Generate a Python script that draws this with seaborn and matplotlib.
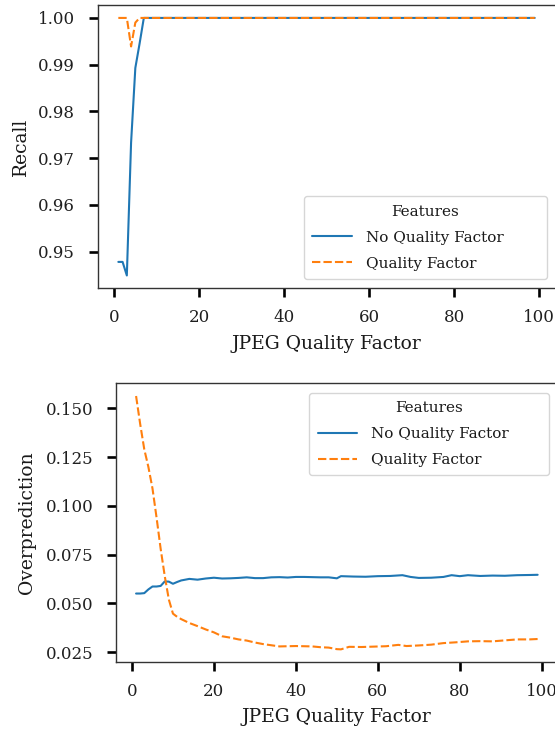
import matplotlib
matplotlib.use("Agg")
import matplotlib.pyplot as plt
import pandas as pd
import seaborn as sns

features = ["No Quality Factor", "Quality Factor"]
colors = ["#1f77b4", "#ff7f0e"]

# Recall against JPEG quality factor
recall_x_nqf = [1, 2, 3, 4, 5, 6, 7, 99]
recall_nqf = [0.9478, 0.9478, 0.9449, 0.9733, 0.9893, 0.9945, 1.0, 1.0]
recall_x_qf = [1, 2, 3, 4, 5, 6, 99]
recall_qf = [1.0, 1.0, 1.0, 0.9939, 0.9990, 1.0, 1.0]

# Overprediction against JPEG quality factor
over_x_nqf = [1, 2, 3, 4, 5, 6, 7, 8, 9, 10, 11, 12, 14, 16, 18, 20, 22, 24,
              26, 28, 30, 32, 34, 36, 38, 40, 42, 44, 46, 48, 50, 51, 54, 57,
              60, 63, 66, 68, 70, 73, 76, 78, 80, 82, 85, 88, 91, 94, 97, 99]
over_nqf = [0.0551, 0.0551, 0.0553, 0.0572, 0.0587, 0.0587, 0.0590, 0.0613,
            0.0612, 0.0601, 0.0610, 0.0618, 0.0626, 0.0622, 0.0628, 0.0632,
            0.0628, 0.0629, 0.0631, 0.0634, 0.0630, 0.0630, 0.0634, 0.0635,
            0.0633, 0.0636, 0.0636, 0.0635, 0.0634, 0.0634, 0.0629, 0.0640,
            0.0638, 0.0637, 0.0640, 0.0641, 0.0645, 0.0636, 0.0631, 0.0632,
            0.0636, 0.0645, 0.0640, 0.0645, 0.0641, 0.0643, 0.0642, 0.0645,
            0.0646, 0.0647]
over_x_qf = [1, 2, 3, 4, 5, 6, 7, 8, 9, 10, 11, 12, 14, 16, 18, 20, 22, 24,
             26, 28, 30, 32, 34, 36, 38, 40, 42, 44, 46, 48, 50, 51, 53, 56,
             59, 62, 65, 67, 70, 73, 76, 79, 82, 85, 88, 91, 94, 97, 99]
over_qf = [0.1563, 0.1420, 0.1290, 0.1200, 0.1090, 0.0940, 0.0780, 0.0640,
           0.0520, 0.0448, 0.0432, 0.0420, 0.0400, 0.0384, 0.0367, 0.0352,
           0.0332, 0.0325, 0.0316, 0.0310, 0.0300, 0.0292, 0.0286, 0.0280,
           0.0281, 0.0282, 0.0281, 0.0280, 0.0276, 0.0274, 0.0266, 0.0265,
           0.0278, 0.0277, 0.0279, 0.0281, 0.0288, 0.0282, 0.0285, 0.0289,
           0.0297, 0.0301, 0.0306, 0.0307, 0.0306, 0.0311, 0.0316, 0.0316,
           0.0318]

recall_ticks = [0.95, 0.96, 0.97, 0.98, 0.99, 1.00]
over_ticks = [0.025, 0.050, 0.075, 0.100, 0.125, 0.150]
x_ticks = [0, 20, 40, 60, 80, 100]

XLABEL = "JPEG Quality Factor"


def frame(xs_a, ys_a, xs_b, ys_b, name):
    a = pd.DataFrame({XLABEL: xs_a, name: ys_a, "Features": features[0]})
    b = pd.DataFrame({XLABEL: xs_b, name: ys_b, "Features": features[1]})
    return pd.concat([a, b], ignore_index=True)


recall_df = frame(recall_x_nqf, recall_nqf, recall_x_qf, recall_qf, "Recall")
over_df = frame(over_x_nqf, over_nqf, over_x_qf, over_qf, "Overprediction")

sns.set_theme(style="ticks")
plt.rcParams["font.family"] = ["DejaVu Serif"]
plt.rcParams.update({
    "font.size": 12,
    "axes.labelsize": 13.5,
    "xtick.labelsize": 12,
    "ytick.labelsize": 12,
    "legend.fontsize": 11,
    "legend.title_fontsize": 11,
    "axes.edgecolor": "0.2",
    "axes.linewidth": 1.0,
    "xtick.color": "black",
    "ytick.color": "black",
    "xtick.labelcolor": "0.12",
    "ytick.labelcolor": "0.12",
    "xtick.major.size": 6.7,
    "ytick.major.size": 6.7,
    "xtick.major.width": 1.9,
    "ytick.major.width": 1.9,
    "xtick.major.pad": 8.3,
    "ytick.major.pad": 9.5,
    "text.color": "0.1",
    "axes.labelcolor": "0.1",
})

fig = plt.figure(figsize=(5.55, 7.32), dpi=100)
ax_top = fig.add_axes([0.1757, 0.6061, 0.8253, 0.3870])
ax_bot = fig.add_axes([0.2090, 0.0956, 0.7959, 0.3807])

sns.lineplot(data=recall_df, x=XLABEL, y="Recall", hue="Features",
             style="Features", hue_order=features, style_order=features,
             palette=colors, linewidth=1.5, ax=ax_top)
sns.lineplot(data=over_df, x=XLABEL, y="Overprediction", hue="Features",
             style="Features", hue_order=features, style_order=features,
             palette=colors, linewidth=1.5, ax=ax_bot)

ax_top.set_yticks(recall_ticks)
ax_top.set_yticklabels([f"{t:.2f}" for t in recall_ticks])
ax_bot.set_yticks(over_ticks)
ax_bot.set_yticklabels([f"{t:.3f}" for t in over_ticks])
for ax, ypad in ((ax_top, 6), (ax_bot, 7)):
    ax.set_xticks(x_ticks)
    ax.set_xlabel(XLABEL, labelpad=6)
    ax.yaxis.labelpad = ypad
    for side in ("top", "right"):
        ax.spines[side].set_visible(True)

legend_kw = dict(title="Features", mode="expand", borderaxespad=0,
                 handlelength=2.6, handletextpad=0.9, labelspacing=0.78,
                 borderpad=0.55)
ax_top.legend(loc="lower left", bbox_to_anchor=(0.4508, 0.0328, 0.5298, 0),
              **legend_kw)
ax_bot.legend(loc="upper left", bbox_to_anchor=(0.4376, 0.9663, 0.5434, 0),
              **legend_kw)

fig.savefig("out.png", dpi=100)
